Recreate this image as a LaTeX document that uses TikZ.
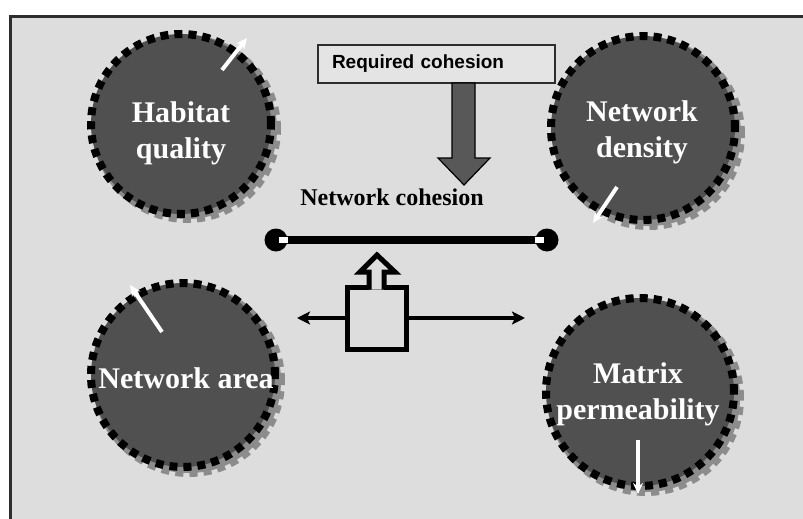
\documentclass[tikz,border=0pt]{standalone}
\usepackage{fontspec}
\setmainfont{Liberation Serif}
\newfontfamily\arialfont{Liberation Sans}
\usetikzlibrary{arrows.meta}
\definecolor{bg}{RGB}{221,221,221}
\definecolor{disc}{RGB}{80,80,80}
\definecolor{shade}{RGB}{140,140,140}
\definecolor{bigarrow}{RGB}{88,88,88}
\definecolor{frame}{RGB}{45,45,45}
\begin{document}
\begin{tikzpicture}[x=1pt,y=-1pt,
  bubble/.style={circle, fill=disc, draw=black, line width=8pt,
    dash pattern=on 8pt off 6pt, inner sep=0pt},
  bubbleshadow/.style={circle, fill=shade, draw=shade, line width=8pt,
    dash pattern=on 8pt off 6pt, inner sep=0pt},
  bubbletext/.style={text=white, font=\fontsize{30}{36}\selectfont\bfseries,
    align=center, inner sep=0pt},
  rcbox/.style={draw=frame, line width=1.2pt, fill=bg!80!white,
    minimum height=38pt, text width=209pt, inner xsep=14pt, inner ysep=0pt,
    align=left, font=\arialfont\fontsize{19}{22}\selectfont\bfseries},
  blob/.style={circle, fill=black, minimum size=23pt, inner sep=0pt},
  harrow/.style={line width=3.5pt, -{Stealth[length=13pt,width=13pt,inset=3pt]}},
  warrow/.style={draw=white, line width=4pt, -{Stealth[length=11pt,width=10pt]}},
]
\useasboundingbox (0,0) rectangle (803,519);
\clip (0,0) rectangle (803,519);
\fill[white] (0,0) rectangle (803,519);
\draw[draw=frame, line width=2.5pt, fill=bg] (10.5,16.5) rectangle (830,540);

% shadows
\node[bubbleshadow, minimum size=180pt] at (187,129) {};
\node[bubbleshadow, minimum size=184pt] at (649,134) {};
\node[bubbleshadow, minimum size=184pt] at (189,381) {};
\node[bubbleshadow, minimum size=188pt] at (646,398) {};

% discs
\node[bubble, minimum size=180pt] (hq) at (181,124) {};
\node[bubble, minimum size=184pt] (nd) at (643,128) {};
\node[bubble, minimum size=184pt] (na) at (183,375) {};
\node[bubble, minimum size=188pt] (mp) at (640,392) {};

\node[bubbletext] (hqt) at (181,133) {Habitat\\quality};
\node[bubbletext] (ndt) at (642,132) {Network\\density};
\node[bubbletext] (nat) at (186,378) {Network area};
\node[bubbletext] (mpt) at (638,394) {Matrix\\permeability};

% white arrows
\coordinate (w1s) at (222,70);  \coordinate (w1e) at (247,38);
\coordinate (w2s) at (617,187); \coordinate (w2e) at (593,223);
\coordinate (w3s) at (162,332); \coordinate (w3e) at (130,285);
\coordinate (w4s) at (638,440); \coordinate (w4e) at (638,494);
\draw[warrow] (w1s) -- (w1e);
\draw[warrow] (w2s) -- (w2e);
\draw[warrow] (w3s) -- (w3e);
\draw[warrow] (w4s) -- (w4e);

% required cohesion
\node[rcbox] (rc) at (436.5,64) {Required cohesion};
\draw[fill=bigarrow, draw=black, line width=1.2pt]
  (452,83) -- (475,83) -- (475,158) -- (490,158) -- (464,185) -- (438,158) -- (452,158) -- cycle;

\node[font=\fontsize{24}{28}\selectfont\bfseries, inner sep=0pt] (nc) at (392,197) {Network cohesion};

% cohesion bar
\node[blob] (bl) at (276,240) {};
\node[blob] (br) at (547,240) {};
\draw[line width=8pt] (bl.center) -- (br.center);
\fill[white] (279,237) rectangle (288,243);
\fill[white] (535,237) rectangle (544,243);

% hollow arrow box
\node[draw=black, line width=5pt, fill=bg, minimum width=59pt, minimum height=62pt, inner sep=0pt] (pb) at (376.5,318) {};
\draw[draw=black, line width=5pt, fill=bg, line join=miter]
  (369,289.5) -- (369,272) -- (360,272) -- (377,255) -- (395,272) -- (384,272) -- (384,289.5);
\coordinate (la) at (297,318);
\coordinate (ra) at (525,318);
\draw[harrow] (pb.west) -- (la);
\draw[harrow] (pb.east) -- (ra);
\end{tikzpicture}
\end{document}
